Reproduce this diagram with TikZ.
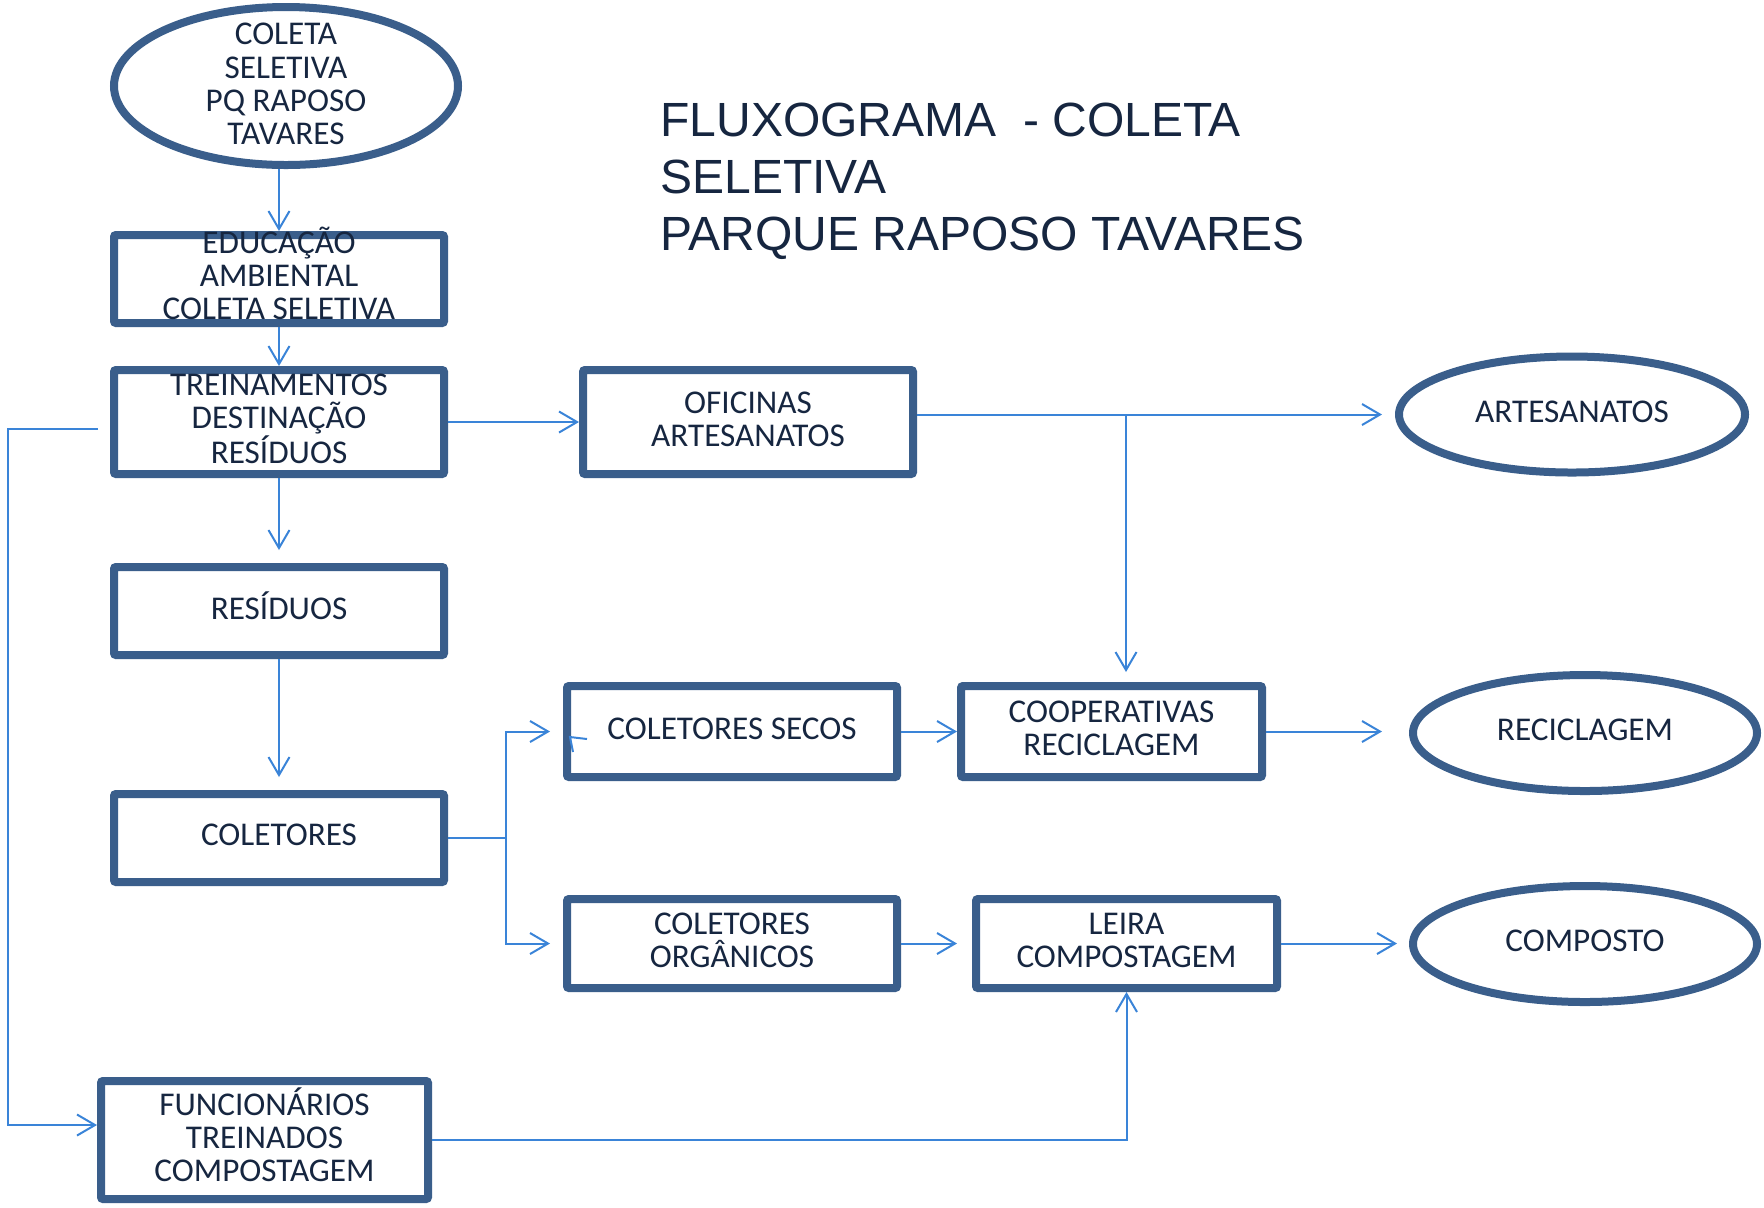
\documentclass[tikz,border=0pt]{standalone}
\usepackage{fontspec}
\setmainfont{Carlito}
\newfontfamily\titlefont{Liberation Sans}
\usetikzlibrary{shapes.geometric,arrows.meta,calc}

\definecolor{borda}{RGB}{58,94,139}
\definecolor{conector}{RGB}{58,132,216}
\definecolor{texto}{RGB}{22,38,64}

\begin{document}
\begin{tikzpicture}[x=0.5pt,y=-0.5pt,
    caixa/.style={draw=borda,line width=4pt,rounded corners=1pt,minimum width=165pt,minimum height=44pt,inner sep=0pt},
    oval/.style={ellipse,draw=borda,line width=4pt,minimum width=172pt,minimum height=58pt,inner sep=0pt},
    rotulo/.style={align=center,text=texto,font=\fontsize{16.6}{16.6}\selectfont,yshift=1.5pt},
    seta/.style={draw=conector,line width=1pt,-{Straight Barb[length=9pt,width=10.5pt]}},
    linha/.style={draw=conector,line width=1pt}]

    % Page
    \useasboundingbox (0,0) rectangle (1764,1207);
    \fill[white] (0,0) rectangle (1764,1207);

    % Title
    \node[anchor=north west,inner sep=0pt,align=left,text=texto,font=\titlefont\fontsize{24}{28.5}\selectfont]
        (titulo) at (660,103) {FLUXOGRAMA\ \ - COLETA\\SELETIVA\\PARQUE RAPOSO TAVARES};

    % Start
    \node[oval,minimum height=79pt,label={[rotulo,yshift=-0.5pt]center:{COLETA\\SELETIVA\\PQ RAPOSO\\TAVARES}}] (inicio) at (286,86) {};

    % Left column
    \node[caixa,label={[rotulo,yshift=1.2pt]center:{EDUCAÇÃO\\AMBIENTAL\\COLETA SELETIVA}}] (educ) at (279,279) {};
    \node[caixa,minimum height=52pt,label={[rotulo]center:{TREINAMENTOS\\DESTINAÇÃO\\RESÍDUOS}}] (trein) at (279,422) {};
    \node[caixa,label={[rotulo,yshift=1.2pt]center:RESÍDUOS}] (resid) at (279,611) {};
    \node[caixa,label={[rotulo]center:COLETORES}] (colet) at (279,838) {};
    \node[caixa,minimum width=163.5pt,minimum height=59pt,label={[rotulo,yshift=1.2pt]center:{FUNCIONÁRIOS\\TREINADOS\\COMPOSTAGEM}}] (func) at (264.5,1140) {};

    % Middle
    \node[caixa,minimum height=52pt,label={[rotulo]center:{OFICINAS\\ARTESANATOS}}] (ofic) at (748,422) {};
    \node[caixa,minimum height=45.5pt,label={[rotulo]center:COLETORES SECOS}] (secos) at (732,731.5) {};
    \node[caixa,minimum height=44.5pt,label={[rotulo]center:{COLETORES\\ORGÂNICOS}}] (organ) at (732,943.5) {};
    \node[caixa,minimum width=150.5pt,minimum height=45.5pt,label={[rotulo]center:{COOPERATIVAS\\RECICLAGEM}}] (coop) at (1111.5,731.5) {};
    \node[caixa,minimum width=150.5pt,minimum height=44.5pt,label={[rotulo]center:{LEIRA\\COMPOSTAGEM}}] (leira) at (1126.5,943.5) {};

    % Results
    \node[oval,minimum width=173pt,label={[rotulo]center:ARTESANATOS}] (artes) at (1572,414.5) {};
    \node[oval,label={[rotulo]center:RECICLAGEM}] (recic) at (1585,733) {};
    \node[oval,label={[rotulo]center:COMPOSTO}] (compost) at (1585,944) {};

    % Main flow
    \draw[seta] (inicio.south -| educ.north) -- (educ.north);
    \draw[seta] (educ.south) -- (trein.north);
    \draw[seta] (trein.east) -- (ofic.west);
    \draw[seta,shorten >=6.5pt] (trein.south) -- (resid.north);
    \draw[seta,shorten >=6.5pt] (resid.south) -- (colet.north);

    % Training loop
    \coordinate (saida) at (98,429);
    \coordinate (canto) at (8,429);
    \draw[seta] (saida) -- (canto) |- ($(func.west)+(0,-15)$);
    \draw[seta] (func.east) -| (leira.south);

    % Collectors
    \coordinate (ramo) at (506,838);
    \draw[linha] (colet.east) -- (ramo);
    \draw[seta,shorten >=6.5pt] (ramo) |- (secos.west);
    \draw[seta,shorten >=6.5pt] (ramo) |- (organ.west);
    \draw[linha] (587,739) -- (570,737) -- (573,752);
    \draw[seta] (secos.east) -- (coop.west);
    \draw[seta,shorten >=7.5pt] (organ.east) -- (leira.west);

    % Workshops
    \coordinate (juncao) at (1126,414.5);
    \draw[seta,shorten >=6.5pt] (ofic.east |- artes.west) -- (artes.west);
    \draw[seta,shorten >=5pt] (juncao) -- (juncao |- coop.north);

    % Outputs
    \draw[seta,shorten >=13.5pt] (coop.east) -- (coop.east -| recic.west);
    \draw[seta,shorten >=6pt] (leira.east) -- (leira.east -| compost.west);

\end{tikzpicture}
\end{document}
